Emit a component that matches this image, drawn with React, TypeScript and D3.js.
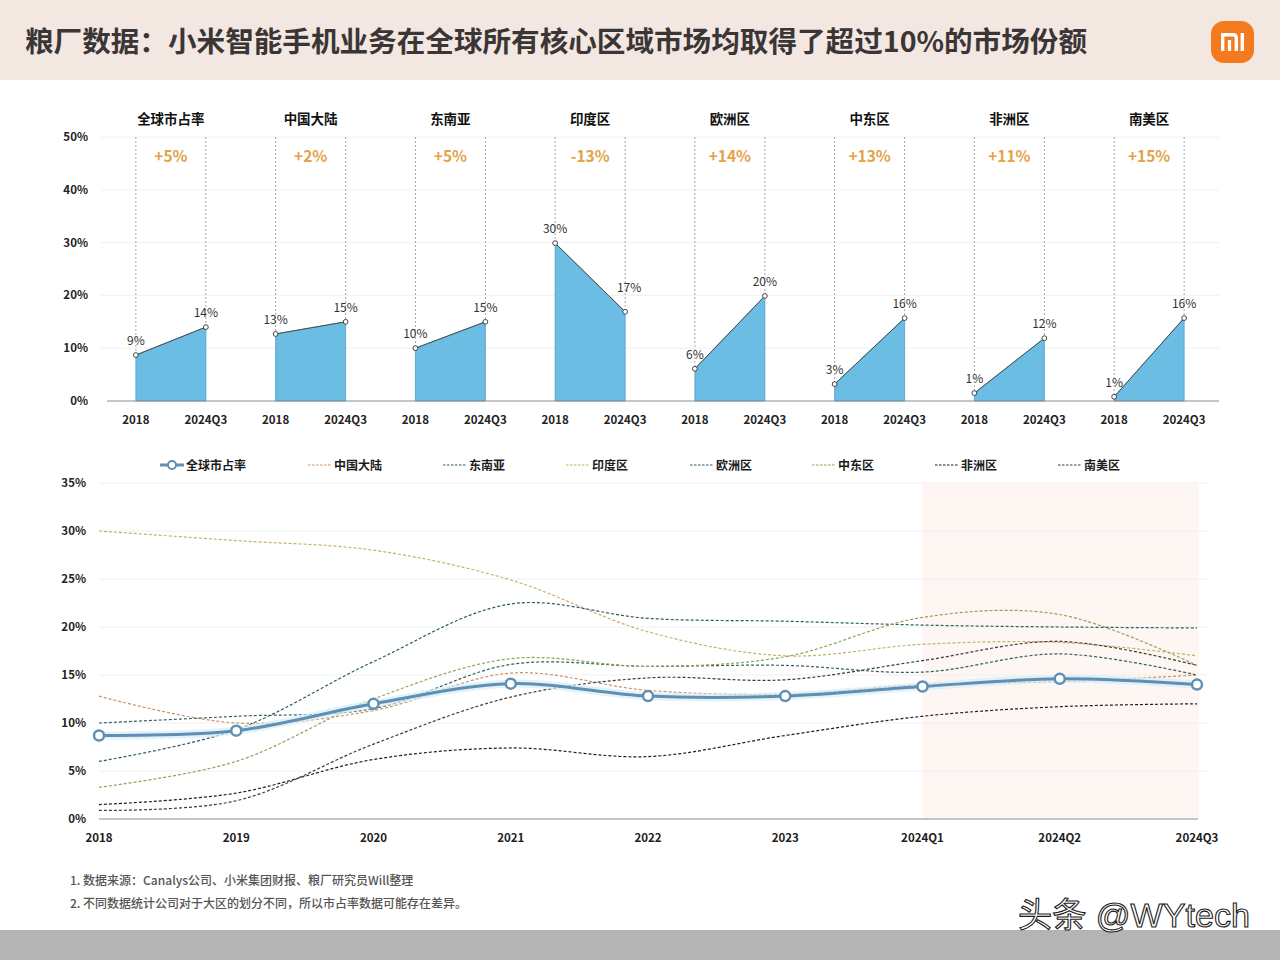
import React from 'react';
import * as d3 from 'd3';

// ---------- data ----------
const regions = ['全球市占率', '中国大陆', '东南亚', '印度区', '欧洲区', '中东区', '非洲区', '南美区'];
const topPeriods = ['2018', '2024Q3'];
const share2018 = [8.7, 12.7, 10.0, 29.9, 6.1, 3.2, 1.5, 0.8];
const share2024Q3 = [14.0, 15.0, 15.0, 16.9, 19.9, 15.7, 11.9, 15.7];
const label2018 = [9, 13, 10, 30, 6, 3, 1, 1];
const label2024Q3 = [14, 15, 15, 17, 20, 16, 12, 16];
const topTicks = [0, 10, 20, 30, 40, 50];

const periods = ['2018', '2019', '2020', '2021', '2022', '2023', '2024Q1', '2024Q2', '2024Q3'];
const globalShare = [8.7, 9.2, 12.0, 14.1, 12.8, 12.8, 13.8, 14.6, 14.0];
const chinaShare = [12.8, 10.0, 11.3, 15.2, 13.4, 13.0, 14.0, 14.3, 15.0];
const seaShare = [10.0, 10.7, 11.5, 16.1, 15.9, 16.0, 15.3, 17.2, 15.0];
const indiaShare = [30.0, 29.0, 28.0, 24.9, 19.5, 17.0, 18.2, 18.4, 17.0];
const europeShare = [6.0, 9.3, 16.4, 22.4, 20.9, 20.6, 20.2, 20.0, 19.9];
const middleEastShare = [3.3, 6.0, 12.5, 16.7, 15.9, 16.9, 21.0, 21.3, 16.0];
const africaShare = [1.5, 2.7, 6.2, 7.4, 6.5, 8.7, 10.7, 11.7, 12.0];
const southAmericaShare = [0.9, 1.9, 7.8, 12.7, 14.7, 14.5, 16.5, 18.5, 16.0];
const bottomTicks = [0, 5, 10, 15, 20, 25, 30, 35];
const shadedPeriods = ['2024Q1', '2024Q3'];

const notes = [
  '1. 数据来源：Canalys公司、小米集团财报、粮厂研究员Will整理',
  '2. 不同数据统计公司对于大区的划分不同，所以市占率数据可能存在差异。',
];
const title = '粮厂数据：小米智能手机业务在全球所有核心区域市场均取得了超过10%的市场份额';

const series = [
  { name: '全球市占率', values: globalShare, color: '#5f8fb3', main: true },
  { name: '中国大陆', values: chinaShare, color: '#c99468' },
  { name: '东南亚', values: seaShare, color: '#355f60' },
  { name: '印度区', values: indiaShare, color: '#c8b06a' },
  { name: '欧洲区', values: europeShare, color: '#2e5e5c' },
  { name: '中东区', values: middleEastShare, color: '#8fa35c' },
  { name: '非洲区', values: africaShare, color: '#1e1e1e' },
  { name: '南美区', values: southAmericaShare, color: '#3c3c3c' },
];

const FONT = '"Noto Sans CJK SC", "Noto Sans", sans-serif';

export default function App() {
  const W = 1280;
  const H = 960;

  // top chart scales
  const groupX = d3.scaleBand<string>().domain(regions).range([101, 1219]).paddingInner(0).paddingOuter(0);
  const innerX = d3.scalePoint<string>().domain(topPeriods).range([-35, 35]);
  const yTop = d3.scaleLinear().domain([0, 50]).range([401, 137]);
  const gx = (r: string) => (groupX(r) as number) + groupX.bandwidth() / 2;

  // bottom chart scales
  const xB = d3.scalePoint<string>().domain(periods).range([99, 1197]);
  const yB = d3.scaleLinear().domain([0, 35]).range([819, 483]);
  const lineGen = d3
    .line<number>()
    .x((_, i) => xB(periods[i]) as number)
    .y((d) => yB(d))
    .curve(d3.curveCatmullRom.alpha(0.5));

  const legendX = [160, 308, 443, 566, 690, 812, 935, 1058];

  return (
    <svg
      width={W}
      height={H}
      viewBox={`0 0 ${W} ${H}`}
      style={{ position: 'absolute', left: 0, top: 0, display: 'block', fontFamily: FONT }}
    >
      <rect x={0} y={0} width={W} height={H} fill="#ffffff" />
      {/* title bar */}
      <rect x={0} y={0} width={W} height={80} fill="#f3e7e2" />
      <text x={25} y={52} fontSize={28} fontWeight={700} fill="#3b3636" textLength={1062} lengthAdjust="spacingAndGlyphs">
        {title}
      </text>
      {/* logo */}
      <rect x={1211} y={21} width={43} height={42} rx={13} fill="#f47a1f" />
      <path
        d="M1221,51 V33 H1233.5 a4.5,4.5 0 0 1 4.5,4.5 V51 H1234.6 V38 a1.6,1.6 0 0 0 -1.6,-1.6 H1224.4 V51 Z"
        fill="#ffffff"
      />
      <rect x={1227.8} y={40} width={3.3} height={11} fill="#ffffff" />
      <rect x={1240.6} y={33} width={3.4} height={18} fill="#ffffff" />

      {/* ---------- top chart ---------- */}
      {topTicks.map((t) => (
        <g key={'tt' + t}>
          {t > 0 && <line x1={101} x2={1219} y1={yTop(t)} y2={yTop(t)} stroke="#f0f0f0" strokeWidth={1} />}
          <text x={88} y={yTop(t) + 4} fontSize={11.5} fontWeight={700} fill="#222" textAnchor="end">
            {t}%
          </text>
        </g>
      ))}
      {regions.map((r, i) => {
        const cx = gx(r);
        const x0 = cx + (innerX('2018') as number);
        const x1 = cx + (innerX('2024Q3') as number);
        const y0 = yTop(share2018[i]);
        const y1 = yTop(share2024Q3[i]);
        const diff = label2024Q3[i] - label2018[i];
        const area = d3
          .area<number>()
          .x((_, k) => (k === 0 ? x0 : x1))
          .y0(yTop(0))
          .y1((d) => yTop(d));
        const falling = diff < 0;
        return (
          <g key={r}>
            <text x={cx} y={124} fontSize={13.5} fontWeight={700} fill="#111" textAnchor="middle">
              {r}
            </text>
            <line x1={x0} x2={x0} y1={yTop(50)} y2={y0} stroke="#8f8f8f" strokeWidth={0.8} strokeDasharray="2,2" />
            <line x1={x1} x2={x1} y1={yTop(50)} y2={y1} stroke="#8f8f8f" strokeWidth={0.8} strokeDasharray="2,2" />
            <text x={cx} y={162} fontSize={15.5} fontWeight={700} fill="#e3a246" textAnchor="middle">
              {(diff >= 0 ? '+' : '') + diff + '%'}
            </text>
            <path d={area([share2018[i], share2024Q3[i]]) || ''} fill="#6bbde3" stroke="#4f9dc6" strokeWidth={0.8} />
            <line x1={x0} y1={y0} x2={x1} y2={y1} stroke="#4a4a4a" strokeWidth={1} />
            <circle cx={x0} cy={y0} r={2.4} fill="#fff" stroke="#333" strokeWidth={0.9} />
            <circle cx={x1} cy={y1} r={2.4} fill="#fff" stroke="#333" strokeWidth={0.9} />
            <text x={x0} y={y0 - 10} fontSize={12} fill="#333" textAnchor="middle">
              {label2018[i]}%
            </text>
            <text x={x1 + (falling ? 4 : 0)} y={y1 - (falling ? 20 : 10)} fontSize={12} fill="#333" textAnchor="middle">
              {label2024Q3[i]}%
            </text>
            {topPeriods.map((p) => (
              <text key={p} x={cx + (innerX(p) as number)} y={424} fontSize={11.5} fontWeight={700} fill="#222" textAnchor="middle">
                {p}
              </text>
            ))}
          </g>
        );
      })}
      <line x1={107} x2={1219} y1={yTop(0)} y2={yTop(0)} stroke="#8c8c8c" strokeWidth={1} />

      {/* ---------- legend ---------- */}
      {series.map((s, i) => (
        <g key={'lg' + s.name}>
          {s.main ? (
            <g>
              <line x1={legendX[i]} x2={legendX[i] + 24} y1={465} y2={465} stroke={s.color} strokeWidth={3} />
              <circle cx={legendX[i] + 12} cy={465} r={4} fill="#fff" stroke={s.color} strokeWidth={2} />
            </g>
          ) : (
            <line x1={legendX[i]} x2={legendX[i] + 23} y1={465} y2={465} stroke={s.color} strokeWidth={1.2} strokeDasharray="2.5,1.5" />
          )}
          <text x={legendX[i] + 26} y={469.5} fontSize={12} fontWeight={700} fill="#1c1c1c">
            {s.name}
          </text>
        </g>
      ))}

      {/* ---------- bottom chart ---------- */}
      <rect
        x={xB(shadedPeriods[0]) as number}
        y={yB(35)}
        width={(xB(shadedPeriods[1]) as number) - (xB(shadedPeriods[0]) as number) + 2}
        height={yB(0) - yB(35)}
        fill="#fdf6f2"
      />
      {bottomTicks.map((t) => (
        <g key={'bt' + t}>
          {t > 0 && <line x1={99} x2={1208} y1={yB(t)} y2={yB(t)} stroke="#f0f0f0" strokeWidth={1} />}
          <text x={86} y={yB(t) + 4} fontSize={11.5} fontWeight={700} fill="#222" textAnchor="end">
            {t}%
          </text>
        </g>
      ))}
      <line x1={99} x2={1198} y1={yB(0)} y2={yB(0)} stroke="#c4c4c4" strokeWidth={2} />
      {periods.map((p) => (
        <text key={'xp' + p} x={xB(p) as number} y={842} fontSize={11.5} fontWeight={700} fill="#1c1c1c" textAnchor="middle">
          {p}
        </text>
      ))}
      {series
        .filter((s) => !s.main)
        .map((s) => (
          <path
            key={'ln' + s.name}
            d={lineGen(s.values) || ''}
            fill="none"
            stroke={s.color}
            strokeWidth={1.2}
            strokeDasharray="3,2"
          />
        ))}
      {series
        .filter((s) => s.main)
        .map((s) => (
          <g key={'main' + s.name}>
            <path d={lineGen(s.values) || ''} fill="none" stroke="#d6ecf8" strokeWidth={8} strokeOpacity={0.7} />
            <path d={lineGen(s.values) || ''} fill="none" stroke={s.color} strokeWidth={3} />
            {s.values.map((v, i) => (
              <circle key={i} cx={xB(periods[i]) as number} cy={yB(v)} r={5} fill="#fff" stroke={s.color} strokeWidth={2.5} />
            ))}
          </g>
        ))}

      {/* ---------- footer ---------- */}
      {notes.map((n, i) => (
        <text key={'n' + i} x={70} y={885 + i * 23} fontSize={12} fontWeight={500} fill="#555">
          {n}
        </text>
      ))}
      <rect x={0} y={930} width={W} height={30} fill="#b4b4b4" />
      <text
        x={1018}
        y={927}
        fontSize={34}
        fill="#ffffff"
        stroke="#1a1a1a"
        strokeWidth={1.1}
        fontFamily='"Liberation Sans", "Noto Sans CJK SC", sans-serif'
        textLength={232}
        lengthAdjust="spacingAndGlyphs"
      >
        头条 @WYtech
      </text>
    </svg>
  );
}
